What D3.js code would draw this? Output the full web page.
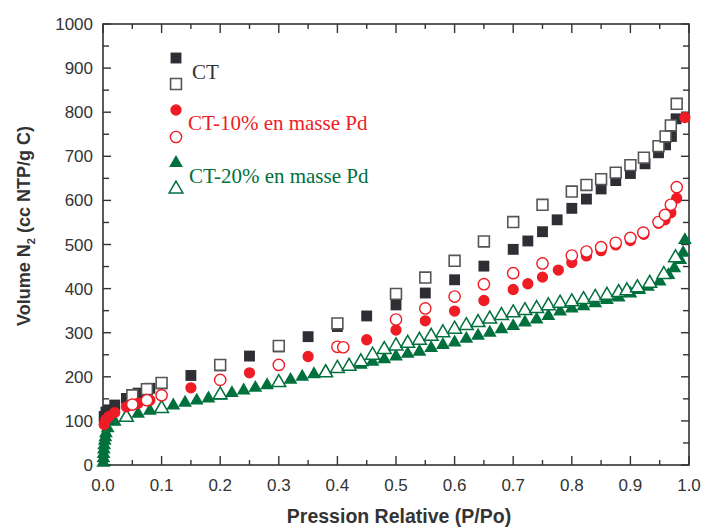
<!DOCTYPE html>
<html><head><meta charset="utf-8">
<script src="https://cdn.jsdelivr.net/npm/d3@7"></script>
<style>body{margin:0;background:#fff;} svg{display:block;}</style>
</head><body>
<svg id="chart" width="701" height="527"></svg>
<script>
// ---- data ----
const ctAdsX = [0.002,0.005,0.01,0.02,0.04,0.06,0.08,0.1,0.15,0.2,0.25,0.3,0.35,0.4,0.45,0.5,0.55,0.6,0.65,0.7,0.725,0.75,0.775,0.8,0.825,0.85,0.875,0.9,0.925,0.948,0.96,0.97,0.978];
const ctAdsY = [110,120,125,136,151,163,174,184,203,225,247,268,291,314,338,363,390,420,451,489,508,529,556,582,603,626,645,661,683,708,726,745,785];
const ctDesX = [0.05,0.075,0.1,0.2,0.3,0.4,0.5,0.55,0.6,0.65,0.7,0.75,0.8,0.825,0.85,0.875,0.9,0.923,0.948,0.96,0.969,0.979];
const ctDesY = [158,172,186,227,270,321,388,425,463,507,551,590,620,635,648,663,680,697,723,745,770,819];
const pd10AdsX = [0.002,0.005,0.01,0.02,0.04,0.06,0.08,0.15,0.25,0.35,0.45,0.5,0.55,0.6,0.65,0.7,0.725,0.75,0.777,0.8,0.825,0.85,0.875,0.9,0.923,0.948,0.959,0.969,0.979,0.993];
const pd10AdsY = [92,103,110,119,132,140,147,175,209,246,284,306,327,349,373,398,411,426,442,459,474,486,499,509,523,548,556,572,605,788];
const pd10DesX = [0.05,0.075,0.1,0.2,0.3,0.4,0.41,0.5,0.55,0.6,0.65,0.7,0.75,0.8,0.825,0.85,0.875,0.9,0.922,0.948,0.959,0.969,0.979];
const pd10DesY = [137,147,158,193,227,268,267,330,355,382,410,435,457,475,484,494,504,515,527,551,567,590,630];
const pd20AdsX = [0.0005,0.0008,0.001,0.0015,0.002,0.003,0.004,0.005,0.008,0.02,0.04,0.06,0.08,0.1,0.12,0.14,0.16,0.18,0.2,0.22,0.24,0.26,0.28,0.3,0.32,0.34,0.36,0.38,0.4,0.42,0.44,0.46,0.48,0.5,0.52,0.54,0.56,0.58,0.6,0.62,0.64,0.66,0.68,0.7,0.72,0.74,0.76,0.78,0.8,0.82,0.84,0.86,0.88,0.9,0.915,0.93,0.95,0.965,0.975,0.985,0.99,0.993];
const pd20AdsY = [5,15,25,35,45,55,63,72,83,98,111,116,123,129,135,141,146,151,157,163,169,175,181,187,193,200,206,212,218,222,227,234,240,246,252,257,265,272,278,286,293,300,308,315,323,330,338,348,355,360,367,374,380,389,397,404,416,431,446,465,481,510];
const pd20DesX = [0.04,0.1,0.2,0.3,0.38,0.4,0.42,0.44,0.46,0.48,0.5,0.52,0.54,0.56,0.58,0.6,0.62,0.64,0.66,0.68,0.7,0.72,0.74,0.76,0.78,0.8,0.82,0.84,0.86,0.88,0.894,0.912,0.933,0.957,0.977];
const pd20DesY = [108,128,159,187,209,219,224,234,249,262,270,276,283,292,300,308,316,323,331,339,345,350,355,361,367,370,375,380,385,391,395,402,412,432,470];
const xTicks = [0,0.1,0.2,0.3,0.4,0.5,0.6,0.7,0.8,0.9,1.0];
const yTicks = [0,100,200,300,400,500,600,700,800,900,1000];
const legendLabels = ["CT","CT-10% en masse Pd","CT-20% en masse Pd"];

// ---- layout ----
const svg = d3.select("#chart");
const L = 103, R = 689, T = 24, B = 465;
const x = d3.scaleLinear().domain([0,1]).range([L,R]);
const y = d3.scaleLinear().domain([0,1000]).range([B,T]);
const axisCol = "#333";
const BLACK = "#2e2e34", RED = "#ee1c25", GREEN = "#00703c", GRAY = "#555";

// frame
svg.append("rect").attr("x",L).attr("y",T).attr("width",R-L).attr("height",B-T)
  .attr("fill","none").attr("stroke",axisCol).attr("stroke-width",1.6);

// ticks
const xMinor = d3.range(0.05,1,0.1);
const yMinor = d3.range(50,1000,100);
const tg = svg.append("g").attr("stroke",axisCol).attr("stroke-width",1.4);
xTicks.forEach(v=>{
  tg.append("line").attr("x1",x(v)).attr("x2",x(v)).attr("y1",B).attr("y2",B-9);
  tg.append("line").attr("x1",x(v)).attr("x2",x(v)).attr("y1",T).attr("y2",T+9);
});
xMinor.forEach(v=>{
  tg.append("line").attr("x1",x(v)).attr("x2",x(v)).attr("y1",B).attr("y2",B-5);
  tg.append("line").attr("x1",x(v)).attr("x2",x(v)).attr("y1",T).attr("y2",T+5);
});
yTicks.forEach(v=>{
  tg.append("line").attr("x1",L).attr("x2",L+8).attr("y1",y(v)).attr("y2",y(v));
  tg.append("line").attr("x1",R).attr("x2",R-8).attr("y1",y(v)).attr("y2",y(v));
});
yMinor.forEach(v=>{
  tg.append("line").attr("x1",L).attr("x2",L+6).attr("y1",y(v)).attr("y2",y(v));
  tg.append("line").attr("x1",R).attr("x2",R-6).attr("y1",y(v)).attr("y2",y(v));
});

// tick labels
const lblFont = "Liberation Sans, Arial, sans-serif";
svg.append("g").selectAll("text").data(xTicks).join("text")
  .attr("x",d=>x(d)).attr("y",B+26).attr("text-anchor","middle")
  .attr("font-family",lblFont).attr("font-size",17).attr("fill","#333")
  .text(d=>d.toFixed(1));
svg.append("g").selectAll("text").data(yTicks).join("text")
  .attr("x",L-10).attr("y",d=>y(d)+6).attr("text-anchor","end")
  .attr("font-family",lblFont).attr("font-size",17).attr("fill","#333")
  .text(d=>d);

// axis titles
svg.append("text").attr("x",(L+R)/2+3).attr("y",523).attr("text-anchor","middle")
  .attr("font-family",lblFont).attr("font-weight","bold").attr("font-size",19.5).attr("fill","#333")
  .text("Pression Relative (P/Po)");
const yt = svg.append("text").attr("transform","translate(30,226) rotate(-90)").attr("text-anchor","middle")
  .attr("font-family",lblFont).attr("font-weight","bold").attr("font-size",18).attr("fill","#333");
yt.append("tspan").text("Volume N");
yt.append("tspan").attr("font-size",11).attr("dy",5).text("2");
yt.append("tspan").attr("dy",-5).text(" (cc NTP/g C)");

// marks
const sq = d3.symbol().type(d3.symbolSquare).size(118)();
const ci = d3.symbol().type(d3.symbolCircle).size(100)();
const tr = d3.symbol().type(d3.symbolTriangle).size(82)();
const plot = svg.append("g");
function series(xs, ys, path, fill, stroke, sw){
  plot.append("g").selectAll("path").data(xs.map((v,i)=>[v,ys[i]])).join("path")
    .attr("d",path).attr("transform",d=>`translate(${x(d[0])},${y(d[1])})`)
    .attr("fill",fill).attr("stroke",stroke).attr("stroke-width",sw);
}
series(pd20AdsX,pd20AdsY,tr,GREEN,"none",0);
series(pd20DesX,pd20DesY,tr,"#fff",GREEN,1.5);
series(ctAdsX,ctAdsY,sq,BLACK,"none",0);
series(ctDesX,ctDesY,sq,"#fff",GRAY,1.6);
series(pd10AdsX,pd10AdsY,ci,RED,"none",0);
series(pd10DesX,pd10DesY,ci,"#fff",RED,1.4);

// legend
const lg = svg.append("g");
const lx = 176;
lg.append("path").attr("d",sq).attr("transform",`translate(${lx},58)`).attr("fill",BLACK);
lg.append("path").attr("d",sq).attr("transform",`translate(${lx},84)`).attr("fill","#fff").attr("stroke",GRAY).attr("stroke-width",1.6);
lg.append("path").attr("d",ci).attr("transform",`translate(${lx},110)`).attr("fill",RED);
lg.append("path").attr("d",ci).attr("transform",`translate(${lx},137)`).attr("fill","#fff").attr("stroke",RED).attr("stroke-width",1.4);
lg.append("path").attr("d",tr).attr("transform",`translate(${lx},163)`).attr("fill",GREEN);
lg.append("path").attr("d",tr).attr("transform",`translate(${lx},189)`).attr("fill","#fff").attr("stroke",GREEN).attr("stroke-width",1.5);
const serif = "Liberation Serif, Times New Roman, serif";
lg.append("text").attr("x",192).attr("y",79).attr("font-family",serif).attr("font-size",21).attr("fill","#333").text(legendLabels[0]);
lg.append("text").attr("x",188).attr("y",130).attr("font-family",serif).attr("font-size",21).attr("fill",RED).text(legendLabels[1]);
lg.append("text").attr("x",189).attr("y",183).attr("font-family",serif).attr("font-size",21).attr("fill",GREEN).text(legendLabels[2]);
</script>
</body></html>
